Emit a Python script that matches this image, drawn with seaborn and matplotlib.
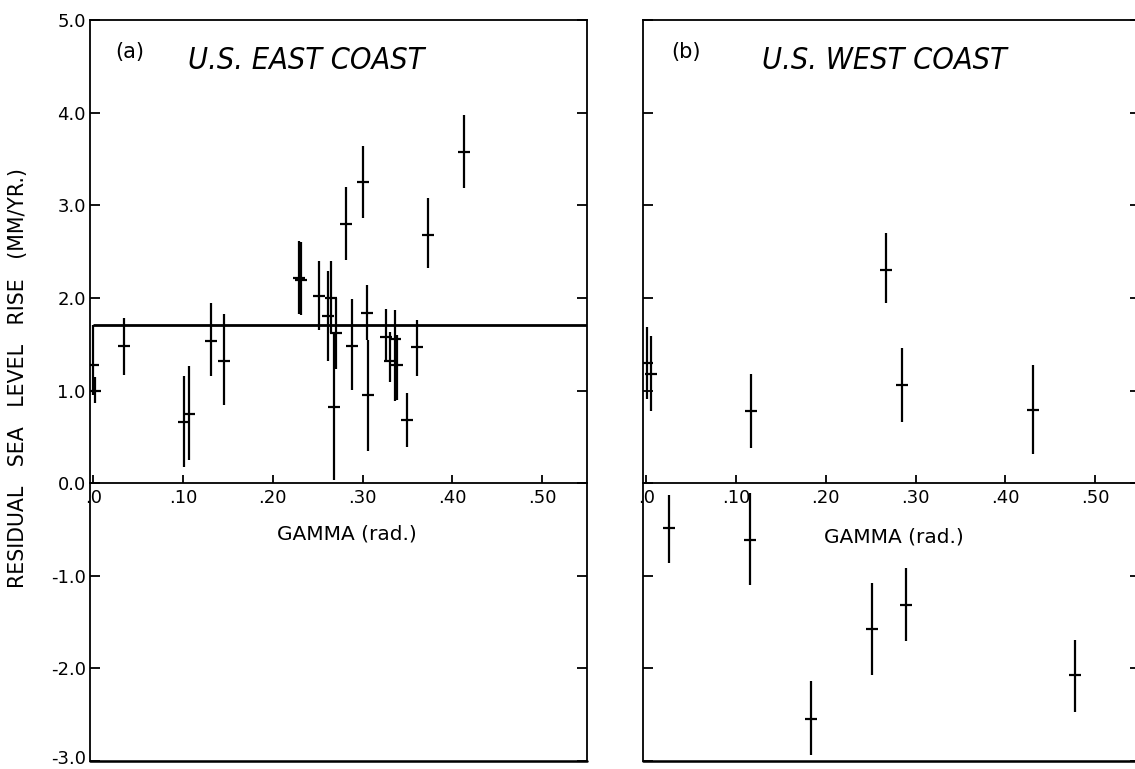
import matplotlib
matplotlib.use("Agg")
import matplotlib.pyplot as plt
import matplotlib.transforms as mtransforms
import numpy as np
import pandas as pd
import seaborn as sns

# ---------------- data ----------------
east_gamma = [0.000, 0.002, 0.034, 0.101, 0.107, 0.131, 0.146, 0.229, 0.232,
              0.251, 0.261, 0.265, 0.268, 0.270, 0.282, 0.288, 0.300, 0.305,
              0.306, 0.326, 0.331, 0.336, 0.338, 0.349, 0.361, 0.373, 0.413]
east_rate = [1.28, 1.00, 1.48, 0.66, 0.75, 1.53, 1.32, 2.21, 2.19,
             2.02, 1.80, 2.00, 0.82, 1.62, 2.80, 1.48, 3.25, 1.84,
             0.95, 1.58, 1.32, 1.56, 1.28, 0.68, 1.47, 2.68, 3.58]
east_low = [0.95, 0.87, 1.17, 0.17, 0.25, 1.16, 0.84, 1.83, 1.82,
            1.65, 1.32, 1.62, 0.03, 1.23, 2.41, 1.01, 2.86, 1.55,
            0.35, 1.31, 1.09, 0.89, 0.90, 0.39, 1.16, 2.32, 3.19]
east_high = [1.71, 1.15, 1.78, 1.16, 1.26, 1.95, 1.83, 2.61, 2.60,
             2.40, 2.29, 2.40, 1.62, 2.00, 3.20, 1.99, 3.64, 2.14,
             1.54, 1.88, 1.63, 1.87, 1.60, 0.97, 1.76, 3.08, 3.97]
east_mean = 1.71

west_gamma = [0.001, 0.005, 0.025, 0.117, 0.116, 0.184, 0.251, 0.267, 0.285,
              0.289, 0.431, 0.478]
west_rate = [1.30, 1.18, -0.48, 0.78, -0.61, -2.55, -1.58, 2.30, 1.06,
             -1.32, 0.79, -2.07]
west_low = [0.91, 0.78, -0.86, 0.38, -1.10, -2.93, -2.07, 1.94, 0.66,
            -1.70, 0.31, -2.47]
west_high = [1.69, 1.59, -0.13, 1.18, -0.11, -2.14, -1.08, 2.70, 1.46,
             -0.92, 1.28, -1.69]

x_ticks = [0.0, 0.1, 0.2, 0.3, 0.4, 0.5]
x_tick_labels = [".0", ".10", ".20", ".30", ".40", ".50"]
y_ticks = [-3, -2, -1, 0, 1, 2, 3, 4, 5]
y_tick_labels = ["-3.0", "-2.0", "-1.0", "0.0", "1.0", "2.0", "3.0", "4.0", "5.0"]

# ---------------- style ----------------
sns.set_theme(style="white")
plt.rcParams["font.family"] = ["DejaVu Sans"]
plt.rcParams["axes.unicode_minus"] = False
plt.rcParams["text.color"] = "black"
plt.rcParams["xtick.color"] = "black"
plt.rcParams["ytick.color"] = "black"

W, H = 1135, 769
fig = plt.figure(figsize=(W / 100, H / 100), dpi=100)
fig.patch.set_facecolor("white")
ax1 = fig.add_axes([90 / W, 8 / H, 497 / W, 741 / H])
ax2 = fig.add_axes([643 / W, 8 / H, 497 / W, 741 / H])

LW = 1.3


def draw_panel(ax, gx, rate, low, high):
    df = pd.DataFrame({"gamma": gx, "rate": rate, "low": low, "high": high})
    ax.vlines(df["gamma"], df["low"], df["high"], color="black", lw=1.6)
    sns.scatterplot(data=df, x="gamma", y="rate", marker="_", s=75,
                    color="black", linewidth=1.6, ax=ax, legend=False)


draw_panel(ax1, east_gamma, east_rate, east_low, east_high)
draw_panel(ax2, west_gamma, west_rate, west_low, west_high)
ax1.hlines(east_mean, 0.0, 0.55, color="black", lw=2.0)

for ax in (ax1, ax2):
    ax.set_xlim(-0.0035, 0.55)
    ax.set_ylim(-3, 5)
    ax.set_facecolor("white")
    ax.spines["bottom"].set_position(("data", 0))
    for sp in ax.spines.values():
        sp.set_linewidth(LW)
        sp.set_color("black")
        sp.set_visible(True)
    ax.axhline(-3, color="black", lw=LW * 1.4, clip_on=False)
    ax.set_xticks(x_ticks)
    ax.set_xticklabels(x_tick_labels)
    ax.set_yticks(y_ticks)
    ax.tick_params(axis="x", direction="in", length=6, width=LW, pad=4,
                   labelsize=13, bottom=True, top=False)
    ax.tick_params(axis="y", direction="in", length=7, width=LW, pad=3,
                   labelsize=13, left=True, right=True)
    ax.set_xlabel("")
    ax.set_ylabel("")

ax1.set_yticklabels(y_tick_labels)
ax2.set_yticklabels([])

# keep the lowest y label inside the picture
lowest = ax1.get_yticklabels()[0]
lowest.set_transform(lowest.get_transform()
                     + mtransforms.ScaledTranslation(0, 4 / 100, fig.dpi_scale_trans))

# labels inside panels
ax1.text(0.517, 0.306, "GAMMA (rad.)", transform=ax1.transAxes,
         ha="center", va="center", fontsize=14.5)
ax2.text(0.505, 0.302, "GAMMA (rad.)", transform=ax2.transAxes,
         ha="center", va="center", fontsize=14.5)

ax1.text(0.08, 0.957, "(a)", transform=ax1.transAxes, ha="center",
         va="center", fontsize=15)
ax2.text(0.087, 0.957, "(b)", transform=ax2.transAxes, ha="center",
         va="center", fontsize=15)
ax1.text(0.198, 0.945, "U.S. EAST COAST", transform=ax1.transAxes,
         ha="left", va="center", fontsize=22, style="italic",
         fontstretch="condensed")
ax2.text(0.239, 0.945, "U.S. WEST COAST", transform=ax2.transAxes,
         ha="left", va="center", fontsize=22, style="italic",
         fontstretch="condensed")

fig.text(18 / W, 1 - 378 / H, "RESIDUAL   SEA   LEVEL   RISE   (MM/YR.)",
         rotation=90, ha="center", va="center", fontsize=14.8)

fig.savefig("out.png", dpi=100, facecolor="white")
